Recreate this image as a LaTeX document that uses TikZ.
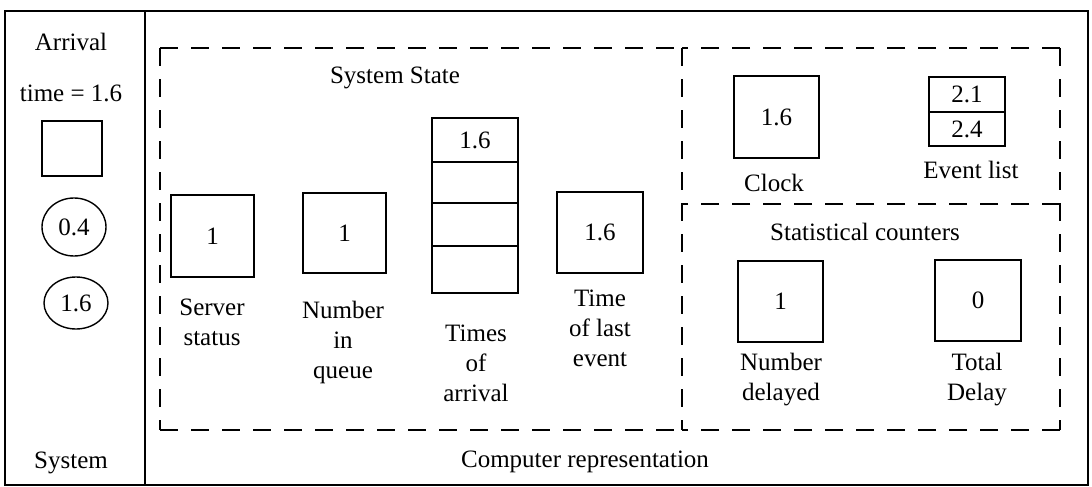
\documentclass[tikz,border=0pt]{standalone}
\usepackage{fontspec}
\setmainfont{Liberation Serif}
\begin{document}
\begin{tikzpicture}[x=1pt,y=-1pt,
  every node/.style={font=\fontsize{25}{30}\selectfont, inner sep=0pt, align=center},
  frame/.style={draw, line width=1.6pt},
  cell/.style={draw, line width=1.8pt},
  dsh/.style={draw, line width=1.8pt, dash pattern=on 18pt off 13pt},
  blob/.style={draw, line width=1.4pt, ellipse}]
\useasboundingbox (0,0) rectangle (1092,487);
% outer frame
\draw[frame] (5,11) rectangle (1088,485);
\draw[frame] (145,11) -- (145,485);
% left column
\node (arr) at (71,42) {Arrival};
\node (tim) at (71,93) {time = 1.6};
\node[cell, minimum width=60pt, minimum height=55pt] (abox) at (72,148.5) {};
\draw[line width=1.4pt] (74,227) ellipse [x radius=32, y radius=29];
\node (c1) at (74,227) {0.4};
\draw[line width=1.4pt] (76,303) ellipse [x radius=32, y radius=26];
\node (c2) at (76,303) {1.6};
\node (sys) at (71,463) {System};
% dashed regions
\coordinate (tl) at (160,48);
\coordinate (tm) at (682,48);
\coordinate (tr) at (1060,48);
\coordinate (bl) at (160,430);
\coordinate (bm) at (682,430);
\coordinate (br) at (1060,430);
\coordinate (ml) at (682,204);
\coordinate (mr) at (1060,204);
\draw[dsh] (tl) -- (tm);
\draw[dsh] (tr) -- (tm);
\draw[dsh] (tl) -- (bl);
\draw[dsh] (bl) -- (bm);
\draw[dsh] (br) -- (bm);
\draw[dsh] (tr) -- (br);
\draw[dsh] (tm) -- (bm);
\draw[dsh] (mr) -- (ml);
% system state
\node (sst) at (395,78) {System State};
\node[cell, minimum width=83pt, minimum height=82pt] (ss) at (212.5,236) {1};
\node (ssl) at (212,322) {Server\\status};
\node[cell, minimum width=83pt, minimum height=80pt] (nq) at (344.5,233) {1};
\node (nql) at (343,342) {Number\\in\\queue};
\node[cell, minimum width=86pt, minimum height=44pt] (q1) at (475,140) {1.6};
\node[cell, minimum width=86pt, minimum height=41pt] (q2) at (475,182.5) {};
\node[cell, minimum width=86pt, minimum height=43pt] (q3) at (475,224.5) {};
\node[cell, minimum width=86pt, minimum height=47pt] (q4) at (475,269.5) {};
\node (ql) at (476,363) {Times\\of\\arrival};
\node[cell, minimum width=86pt, minimum height=81pt] (tle) at (600,232.5) {1.6};
\node (tlel) at (600,328) {Time\\of last\\event};
% clock and event list
\node[cell, minimum width=85pt, minimum height=82pt] (clk) at (776.5,117) {1.6};
\node (clkl) at (774,183) {Clock};
\node[cell, minimum width=76pt, minimum height=35pt] (e1) at (967,94.5) {2.1};
\node[cell, minimum width=76pt, minimum height=34pt] (e2) at (967,129) {2.4};
\node (el) at (971,170) {Event list};
% statistical counters
\node (stc) at (865,232) {Statistical counters};
\node[cell, minimum width=85pt, minimum height=81pt] (nd) at (780.5,301.5) {1};
\node (ndl) at (781,380) {Number\\delayed};
\node[cell, minimum width=86pt, minimum height=81pt] (td) at (978,300.5) {0};
\node (tdl) at (977,380) {Total\\Delay};
\node (cr) at (585,462) {Computer representation};
\end{tikzpicture}
\end{document}
